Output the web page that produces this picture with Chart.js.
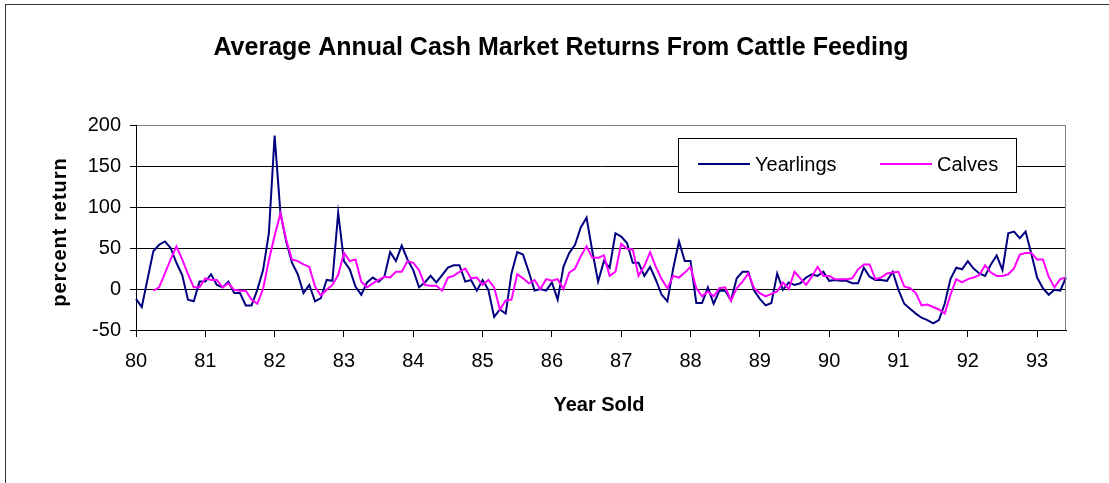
<!DOCTYPE html>
<html>
<head>
<meta charset="utf-8">
<title>Average Annual Cash Market Returns From Cattle Feeding</title>
<script src="https://cdn.jsdelivr.net/npm/chart.js@4.4.1/dist/chart.umd.min.js"></script>
<style>
  html, body { margin: 0; padding: 0; background: #fff; overflow: hidden; }
</style>
</head>
<body>
<canvas id="chart" width="1109" height="483"></canvas>
<script>
// year tick labels (one every 12 months)
var yearLabels = ["80", "81", "82", "83", "84", "85", "86", "87", "88", "89", "90", "91", "92", "93"];

// monthly percent return, Jan 80 .. Jun 93
var yearlings = [
  -12, -22, 12, 46, 54, 58, 50, 32, 17, -13, -15, 9,
  9, 18, 5, 2, 9, -5, -5, -20, -20, -1, 23, 68,
  187, 93, 58, 32, 18, -5, 5, -15, -11, 11, 10, 93,
  34, 24, 3, -7, 8, 14, 9, 15, 45, 34, 53, 36,
  23, 2, 8, 16, 8, 17, 26, 29, 29, 9, 11, -2,
  11, -1, -34, -25, -30, 19, 45, 42, 21, -2, 0, -2,
  8, -13, 27, 44, 54, 75, 87, 46, 9, 34, 26, 68,
  64, 56, 32, 32, 16, 27, 11, -7, -15, 25, 58, 34,
  34, -17, -17, 2, -18, -2, -2, -14, 13, 21, 21, -2,
  -12, -20, -17, 19, -1, 8, 5, 7, 14, 18, 16, 21,
  10, 11, 10, 10, 7, 7, 26, 15, 11, 11, 10, 21,
  -1, -18, -24, -30, -35, -38, -42, -38, -18, 12, 26, 24,
  34, 25, 19, 16, 30, 41, 23, 68, 70, 62, 70, 43,
  14, 1, -7, -1, -2, 14
];

var calves = [
  null, null, null, -2, 2, 19, 36, 52, 36, 18, 2, 2,
  13, 11, 11, 2, 7, -1, -2, -2, -13, -18, 0, 35,
  65, 92, 60, 36, 34, 30, 27, 3, -8, -1, 5, 17,
  44, 34, 36, 9, 2, 7, 11, 15, 14, 21, 21, 34,
  32, 23, 5, 4, 4, -2, 14, 16, 21, 25, 13, 14,
  5, 11, 2, -25, -14, -13, 18, 13, 7, 11, 0, 12,
  10, 12, 0, 20, 25, 40, 52, 38, 38, 41, 16, 21,
  55, 49, 48, 16, 28, 45, 27, 12, 1, 16, 14, 20,
  27, 1, -9, -3, -9, 1, 2, -14, 1, 9, 19, 1,
  -5, -9, -6, -3, 8, 0, 21, 13, 5, 15, 27, 16,
  16, 12, 12, 12, 13, 24, 30, 30, 12, 14, 19, 20,
  21, 3, 1, -5, -20, -19, -22, -25, -30, -7, 12, 8,
  12, 14, 17, 29, 20, 16, 16, 18, 25, 42, 44, 44,
  36, 36, 15, 2, 12, 14
];

// one category per month, label only on January
var months = [];
yearLabels.forEach(function (y) {
  for (var m = 0; m < 12; m++) {
    months.push(m === 0 ? y : "");
  }
});
months = months.slice(0, yearlings.length);

var FONT = "'Liberation Sans', Arial, sans-serif";
Chart.defaults.font.family = FONT;
Chart.defaults.font.size = 20;
Chart.defaults.color = "#000";

// Title, axis titles, legend box and outer frame
var decorations = {
  id: "decorations",
  beforeDraw: function (chart) {
    var ctx = chart.ctx;
    ctx.save();
    ctx.fillStyle = "#fff";
    ctx.fillRect(0, 0, chart.width, chart.height);
    ctx.strokeStyle = "#333";
    ctx.lineWidth = 1;
    ctx.strokeRect(5.5, 4.5, 1300, 700);
    ctx.restore();
  },
  afterDraw: function (chart) {
    var ctx = chart.ctx;
    var area = chart.chartArea;
    ctx.save();

    // right edge of the plot area
    ctx.strokeStyle = "#808080";
    ctx.lineWidth = 1;
    ctx.beginPath();
    ctx.moveTo(Math.round(area.right) - 0.5, area.top);
    ctx.lineTo(Math.round(area.right) - 0.5, area.bottom);
    ctx.stroke();

    // title
    ctx.fillStyle = "#000";
    ctx.textAlign = "center";
    ctx.textBaseline = "middle";
    ctx.font = "bold 25px " + FONT;
    ctx.fillText("Average Annual Cash Market Returns From Cattle Feeding", 561, 48);

    // x axis title
    ctx.font = "bold 20px " + FONT;
    ctx.fillText("Year Sold", 599, 405);

    // y axis title
    ctx.save();
    ctx.translate(60, 232);
    ctx.rotate(-Math.PI / 2);
    ctx.letterSpacing = "1px";
    ctx.fillText("percent return", 0, 0);
    ctx.restore();

    // legend
    ctx.fillStyle = "#fff";
    ctx.fillRect(678, 138, 338, 54);
    ctx.strokeStyle = "#000";
    ctx.strokeRect(678.5, 138.5, 338, 54);

    ctx.lineWidth = 2;
    chart.data.datasets.forEach(function (ds, i) {
      var x0 = i === 0 ? 698 : 880;
      ctx.strokeStyle = ds.borderColor;
      ctx.beginPath();
      ctx.moveTo(x0, 164);
      ctx.lineTo(x0 + 52, 164);
      ctx.stroke();
      ctx.fillStyle = "#000";
      ctx.textAlign = "left";
      ctx.font = "20px " + FONT;
      ctx.fillText(ds.label, x0 + 57, 165);
    });

    ctx.restore();
  }
};

new Chart(document.getElementById("chart"), {
  type: "line",
  data: {
    labels: months,
    datasets: [
      {
        label: "Yearlings",
        data: yearlings,
        borderColor: "#000080",
        borderWidth: 2,
        pointRadius: 0,
        tension: 0,
        order: 1
      },
      {
        label: "Calves",
        data: calves,
        borderColor: "#ff00ff",
        borderWidth: 2,
        pointRadius: 0,
        tension: 0,
        order: 0
      }
    ]
  },
  options: {
    responsive: false,
    animation: false,
    devicePixelRatio: 1,
    layout: {
      padding: { left: 0, top: 125, right: 43, bottom: 0 }
    },
    plugins: {
      legend: { display: false },
      title: { display: false },
      tooltip: { enabled: false }
    },
    scales: {
      x: {
        grid: {
          drawOnChartArea: false,
          tickLength: 7,
          color: function (c) {
            return c.index % 12 === 0 ? "#000" : "rgba(0,0,0,0)";
          }
        },
        border: { color: "#000" },
        ticks: { autoSkip: false, maxRotation: 0, minRotation: 0, padding: 12 },
        afterFit: function (scale) {
          scale.height = 153;
        }
      },
      y: {
        min: -50,
        max: 200,
        ticks: { stepSize: 50, padding: 9 },
        grid: {
          tickLength: 6,
          tickColor: "#000",
          color: function (c) {
            return c.tick && c.tick.value === 200 ? "#808080" : "#000";
          }
        },
        border: { color: "#000" },
        afterFit: function (scale) {
          scale.width = 136;
        }
      }
    }
  },
  plugins: [decorations]
});
</script>
</body>
</html>
